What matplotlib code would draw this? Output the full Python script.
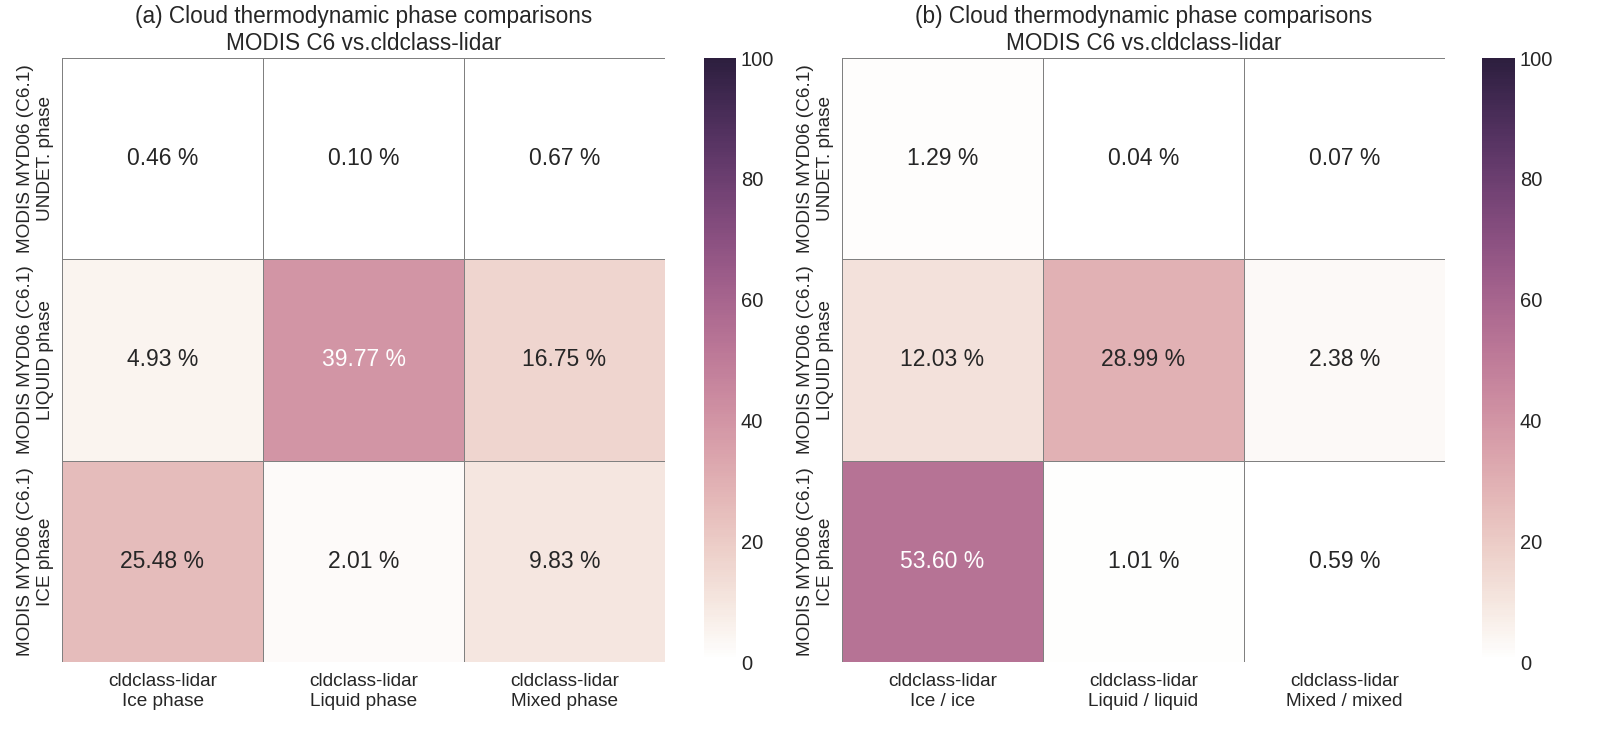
import numpy as np
import matplotlib
matplotlib.use('Agg')
import matplotlib.pyplot as plt
import seaborn as sns

sns.set_style('white')
plt.rcParams['font.family'] = ['Liberation Sans', 'DejaVu Sans']

# data (percent)
x_labels_a = ['cldclass-lidar\nIce phase', 'cldclass-lidar\nLiquid phase', 'cldclass-lidar\nMixed phase']
x_labels_b = ['cldclass-lidar\nIce / ice', 'cldclass-lidar\nLiquid / liquid', 'cldclass-lidar\nMixed / mixed']
y_labels = ['MODIS MYD06 (C6.1)\nUNDET. phase', 'MODIS MYD06 (C6.1)\nLIQUID phase', 'MODIS MYD06 (C6.1)\nICE phase']

undet_a = [0.46, 0.10, 0.67]
liquid_a = [4.93, 39.77, 16.75]
ice_a = [25.48, 2.01, 9.83]

undet_b = [1.29, 0.04, 0.07]
liquid_b = [12.03, 28.99, 2.38]
ice_b = [53.60, 1.01, 0.59]

titles = ['(a) Cloud thermodynamic phase comparisons\nMODIS C6 vs.cldclass-lidar',
          '(b) Cloud thermodynamic phase comparisons\nMODIS C6 vs.cldclass-lidar']

W, H = 1607, 743
fig = plt.figure(figsize=(W / 100, H / 100), dpi=100)

def box(x0, x1, y0, y1):
    return [x0 / W, 1 - y1 / H, (x1 - x0) / W, (y1 - y0) / H]

cmap = sns.cubehelix_palette(light=1, as_cmap=True)

panels = [
    (np.array([undet_a, liquid_a, ice_a]), x_labels_a, box(62, 665, 58, 662), box(704, 736, 58, 662)),
    (np.array([undet_b, liquid_b, ice_b]), x_labels_b, box(842, 1445, 58, 662), box(1482, 1515, 58, 662)),
]

for i, (mat, xl, axpos, cbpos) in enumerate(panels):
    ax = fig.add_axes(axpos)
    cax = fig.add_axes(cbpos)
    annot = np.array([[f'{v:.2f} %' for v in row] for row in mat])
    sns.heatmap(mat, ax=ax, cbar_ax=cax, cmap=cmap, vmin=0, vmax=100,
                annot=annot, fmt='', annot_kws={'fontsize': 16.5},
                linewidths=0.6, linecolor='gray',
                xticklabels=xl, yticklabels=y_labels)
    ax.set_title(titles[i], fontsize=16.3, pad=6)
    ax.tick_params(axis='x', labelsize=13.7, rotation=0, length=0, pad=8)
    ax.tick_params(axis='y', labelsize=13.7, length=0, pad=6)
    for t in ax.get_yticklabels():
        t.set_rotation(90)
        t.set_va('center')
        t.set_ha('right')
        t.set_multialignment('center')
    cax.tick_params(labelsize=14.5, length=0)
    cax.set_yticks([0, 20, 40, 60, 80, 100])

plt.savefig('out.png', dpi=100)
